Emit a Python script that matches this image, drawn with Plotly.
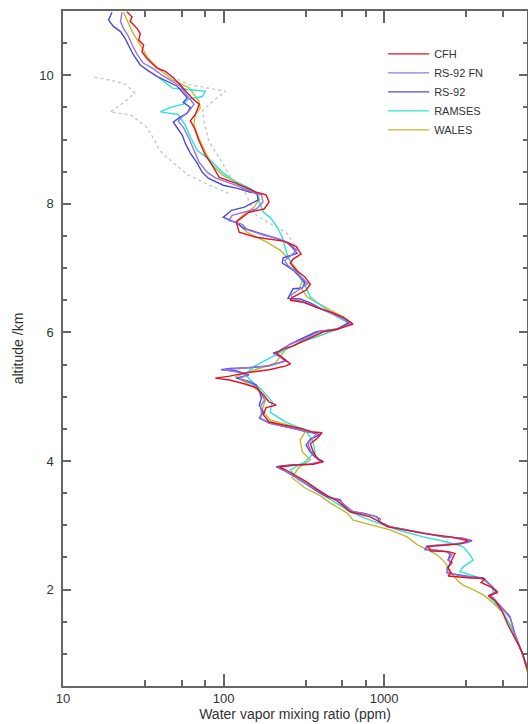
import plotly.graph_objects as go

# ---- data (altitude km, water vapour mixing ratio ppm) ----
CFH = [(10.99, 25.0), (10.96, 25.6), (10.91, 26.9), (10.84, 26.2), (10.73, 28.9), (10.65, 30.3),
       (10.55, 29.6), (10.47, 31.8), (10.37, 31.0), (10.26, 33.3), (10.19, 35.8), (10.11, 38.5),
       (10.06, 43.4), (10.00, 46.6), (9.88, 52.5), (9.80, 56.2), (9.64, 63.9), (9.55, 70.6),
       (9.39, 66.7), (9.29, 62.1), (9.18, 65.8), (8.97, 70.6), (8.76, 76.9), (8.60, 85.1),
       (8.41, 94.0), (8.32, 120), (8.18, 160), (8.14, 184), (8.03, 192), (7.92, 179), (7.87, 144),
       (7.72, 120), (7.56, 125), (7.48, 160), (7.42, 235), (7.34, 283), (7.22, 304), (7.14, 271),
       (7.08, 260), (6.97, 283), (6.86, 322), (6.75, 347), (6.66, 327), (6.55, 271), (6.50, 260),
       (6.47, 313), (6.39, 378), (6.32, 461), (6.24, 556), (6.13, 641), (6.05, 510), (6.01, 418),
       (5.94, 362), (5.87, 313), (5.79, 271), (5.74, 235), (5.68, 213), (5.60, 235), (5.51, 260),
       (5.48, 245), (5.42, 192), (5.37, 138), (5.32, 109), (5.29, 88.8), (5.26, 109), (5.21, 131),
       (5.14, 160), (5.03, 177), (4.92, 192), (4.87, 213), (4.83, 184), (4.72, 177), (4.61, 192),
       (4.56, 235), (4.51, 300), (4.45, 362), (4.44, 411), (4.34, 378), (4.27, 347), (4.14, 362),
       (4.02, 389), (3.99, 418), (3.95, 362), (3.94, 283), (3.91, 222), (3.86, 245), (3.77, 283),
       (3.68, 327), (3.57, 378), (3.46, 442), (3.38, 510), (3.21, 614), (3.13, 818), (3.05, 944),
       (2.98, 1045), (2.93, 1333), (2.87, 1775), (2.82, 2614), (2.76, 3334), (2.71, 3013),
       (2.68, 2168), (2.67, 1879), (2.60, 1961), (2.59, 2500), (2.56, 2765), (2.45, 2614),
       (2.34, 2500), (2.26, 2614), (2.21, 2500), (2.18, 3473), (2.17, 4250), (2.11, 4015),
       (2.03, 4710), (1.95, 5060), (1.90, 4450), (1.83, 4910), (1.67, 5420), (1.45, 5910),
       (1.25, 6540), (1.03, 7230), (0.77, 7760)]

RS92_FN = [(10.98, 23.3), (10.84, 22.8), (10.73, 23.8), (10.61, 25.5), (10.47, 27.0), (10.32, 29.0),
           (10.19, 31.6), (10.11, 36.0), (10.00, 41.6), (9.91, 48.0), (9.83, 53.8), (9.65, 60.7),
           (9.55, 65.5), (9.44, 60.8), (9.36, 55.3), (9.29, 52.2), (9.18, 56.5), (9.02, 60.8),
           (8.83, 65.3), (8.65, 70.3), (8.49, 79.3), (8.40, 89.4), (8.29, 119), (8.18, 152),
           (8.14, 172), (8.03, 176), (7.92, 160), (7.82, 113), (7.74, 108), (7.68, 131), (7.60, 140),
           (7.52, 175), (7.45, 225), (7.38, 262), (7.28, 285), (7.20, 265), (7.12, 240), (7.05, 250),
           (6.95, 280), (6.85, 310), (6.76, 335), (6.68, 300), (6.58, 262), (6.52, 270), (6.45, 335),
           (6.36, 410), (6.28, 490), (6.20, 570), (6.14, 630), (6.06, 520), (6.02, 400), (5.90, 320),
           (5.82, 262), (5.72, 225), (5.66, 210), (5.60, 230), (5.55, 240), (5.48, 190), (5.44, 125),
           (5.42, 100), (5.39, 118), (5.34, 140), (5.28, 125), (5.22, 145), (5.15, 162), (5.05, 172),
           (4.95, 180), (4.85, 170), (4.75, 172), (4.66, 170), (4.58, 200), (4.52, 255), (4.47, 320),
           (4.43, 380), (4.36, 360), (4.27, 335), (4.15, 350), (4.05, 380), (3.99, 405), (3.95, 340),
           (3.93, 265), (3.90, 218), (3.85, 240), (3.76, 275), (3.67, 318), (3.55, 380), (3.45, 445),
           (3.38, 530), (3.21, 641), (3.15, 850), (3.10, 950), (3.05, 930), (2.98, 1060), (2.93, 1370),
           (2.88, 1760), (2.82, 2400), (2.79, 3150), (2.76, 3450), (2.73, 3200), (2.70, 2300),
           (2.68, 1870), (2.63, 1830), (2.61, 2200), (2.58, 2500), (2.54, 2650), (2.46, 2520),
           (2.40, 2620), (2.33, 2480), (2.26, 2500), (2.22, 2900), (2.19, 3500), (2.17, 4150),
           (2.12, 4350), (2.04, 4750), (1.96, 5000), (1.91, 4550), (1.86, 4800), (1.78, 5100),
           (1.68, 5500), (1.56, 6100), (1.30, 6550), (1.05, 7150), (0.78, 7760)]

RS92 = [(10.98, 20.2), (10.86, 19.2), (10.76, 20.6), (10.68, 22.8), (10.57, 24.4), (10.47, 25.5),
        (10.32, 27.4), (10.16, 30.3), (10.08, 33.5), (9.98, 38.7), (9.91, 44.6), (9.83, 51.5),
        (9.65, 59.4), (9.58, 56.1), (9.50, 62.1), (9.41, 59.4), (9.33, 52.2), (9.27, 48.6),
        (9.18, 51.5), (9.07, 55.3), (8.94, 57.8), (8.79, 62.1), (8.63, 68.6), (8.49, 73.7),
        (8.40, 80.3), (8.29, 99.5), (8.24, 122), (8.18, 147), (8.17, 162), (8.06, 164), (7.95, 135),
        (7.90, 112), (7.79, 99.5), (7.75, 110), (7.70, 122), (7.62, 133), (7.56, 162), (7.48, 204),
        (7.40, 249), (7.31, 271), (7.23, 287), (7.20, 260), (7.16, 235), (7.08, 232), (6.97, 271),
        (6.86, 300), (6.77, 322), (6.69, 309), (6.68, 271), (6.53, 252), (6.52, 300), (6.46, 347),
        (6.35, 418), (6.30, 482), (6.22, 556), (6.15, 600), (6.05, 510), (6.01, 378), (5.91, 313),
        (5.82, 260), (5.71, 222), (5.68, 204), (5.63, 222), (5.56, 245), (5.48, 192), (5.45, 144),
        (5.44, 109), (5.42, 96.8), (5.40, 120), (5.34, 144), (5.29, 120), (5.24, 144), (5.18, 160),
        (5.09, 167), (4.98, 172), (4.87, 167), (4.76, 177), (4.67, 167), (4.59, 192), (4.53, 245),
        (4.48, 313), (4.44, 362), (4.41, 400), (4.34, 347), (4.25, 327), (4.14, 347), (4.06, 372),
        (3.99, 418), (3.95, 347), (3.94, 260), (3.91, 213), (3.86, 235), (3.77, 271), (3.68, 313),
        (3.54, 378), (3.44, 442), (3.40, 532), (3.32, 556), (3.21, 641), (3.19, 740), (3.13, 903),
        (3.05, 944), (2.98, 1090), (2.93, 1390), (2.88, 1750), (2.82, 2330), (2.80, 3100),
        (2.76, 3530), (2.73, 3290), (2.69, 2330), (2.68, 1850), (2.62, 1800), (2.61, 2140),
        (2.59, 2470), (2.54, 2575), (2.46, 2500), (2.42, 2650), (2.34, 2470), (2.26, 2470),
        (2.23, 2845), (2.20, 3430), (2.18, 4130), (2.12, 4375), (2.04, 4775), (1.97, 5060),
        (1.92, 4575), (1.87, 4775), (1.79, 5060), (1.69, 5510), (1.58, 6080), (1.30, 6540),
        (1.06, 7130), (0.80, 7760)]

RAMSES = [(9.97, 39.3), (9.80, 48.0), (9.78, 60.2), (9.75, 76.9), (9.67, 73.7), (9.63, 60.2),
          (9.55, 56.1), (9.50, 46.6), (9.43, 40.4), (9.39, 52.2), (9.22, 57.8), (9.04, 62.1),
          (8.83, 68.6), (8.68, 82.6), (8.49, 98.2), (8.35, 118), (8.24, 147), (8.12, 164),
          (8.03, 167), (7.87, 177), (7.79, 195), (7.64, 216), (7.48, 232), (7.33, 242), (7.17, 252),
          (7.02, 271), (6.86, 300), (6.66, 332), (6.55, 347), (6.46, 384), (6.35, 442), (6.24, 510),
          (6.16, 589), (6.13, 614), (6.04, 497), (5.93, 372), (5.84, 300), (5.73, 242), (5.60, 195),
          (5.48, 157), (5.35, 136), (5.26, 147), (5.10, 174), (4.92, 201), (4.76, 195), (4.61, 242),
          (4.48, 322), (4.33, 357), (4.14, 372), (3.99, 322), (3.86, 260), (3.71, 292), (3.55, 372),
          (3.40, 461), (3.21, 614), (3.08, 818), (2.93, 1205), (2.82, 1750), (2.74, 2470),
          (2.67, 3100), (2.54, 3430), (2.46, 3580), (2.35, 3100), (2.28, 2970), (2.23, 3430),
          (2.18, 3955), (2.12, 4375), (2.04, 4700), (1.95, 4775), (1.87, 4575), (1.76, 5060),
          (1.64, 5510), (1.45, 6080), (1.22, 6730), (0.99, 7330), (0.80, 7760)]

WALES = [(10.98, 23.8), (10.84, 25.2), (10.68, 27.0), (10.47, 30.3), (10.26, 34.0), (10.08, 40.4),
         (9.92, 48.6), (9.81, 60.8), (9.60, 70.2), (9.49, 71.6), (9.39, 66.7), (9.23, 65.3),
         (9.02, 70.2), (8.81, 76.9), (8.60, 85.1), (8.45, 98.2), (8.29, 131), (8.18, 160),
         (8.07, 167), (7.95, 155), (7.82, 131), (7.72, 120), (7.56, 140), (7.40, 187), (7.28, 225),
         (7.12, 260), (6.97, 287), (6.81, 309), (6.71, 300), (6.55, 332), (6.46, 384), (6.35, 461),
         (6.24, 556), (6.16, 614), (6.04, 497), (5.94, 389), (5.85, 300), (5.73, 242), (5.62, 225),
         (5.52, 210), (5.42, 157), (5.31, 118), (5.23, 136), (5.10, 164), (4.95, 182), (4.79, 174),
         (4.64, 195), (4.55, 260), (4.45, 322), (4.33, 300), (4.14, 309), (4.02, 347), (3.89, 292),
         (3.74, 267), (3.58, 322), (3.46, 400), (3.35, 461), (3.19, 589), (3.08, 641), (3.01, 818),
         (2.93, 1090), (2.82, 1390), (2.70, 1605), (2.62, 1853), (2.54, 2140), (2.42, 2400),
         (2.28, 2575), (2.15, 2845), (2.07, 3100), (2.00, 3580), (1.92, 4130), (1.79, 4775),
         (1.64, 5510), (1.45, 6080), (1.22, 6730), (0.94, 7430), (0.72, 7760)]

RAMSES_LOW = [(9.97, 15.7), (9.92, 20), (9.86, 24.5), (9.72, 28), (9.58, 24), (9.43, 19.7),
              (9.38, 26.5), (9.20, 33), (9.00, 37), (8.83, 40), (8.65, 48), (8.45, 60), (8.30, 80),
              (8.15, 110)]
RAMSES_HIGH = [(9.98, 48), (9.86, 60), (9.75, 103), (9.62, 88), (9.45, 74), (9.25, 76), (8.97, 81),
               (8.70, 95), (8.44, 109), (8.20, 135), (7.95, 150), (7.82, 160), (7.55, 246),
               (7.30, 290)]

SERIES = [("CFH", CFH, "#e0141e"), ("RS-92 FN", RS92_FN, "#9574e6"), ("RS-92", RS92, "#4b4bd6"),
          ("RAMSES", RAMSES, "#2fe3d6"), ("WALES", WALES, "#c3b733")]

X_MAJOR = [10, 100, 1000]
X_MAJOR_TEXT = ["10", "100", "1000"]
X_MINOR = [32.4, 55, 76.7, 324, 550, 767, 3240, 5500]
Y_MAJOR = [2, 4, 6, 8, 10]

AXC = "#666666"
TXT = "#333333"

fig = go.Figure()
for band in (RAMSES_LOW, RAMSES_HIGH):
    fig.add_trace(go.Scatter(x=[p[1] for p in band], y=[p[0] for p in band], mode="lines",
                             line=dict(color="#c8c8c8", width=1.4, dash="dot"),
                             showlegend=False, hoverinfo="skip"))
for name, data, col in reversed(SERIES):
    fig.add_trace(go.Scatter(x=[p[1] for p in data], y=[p[0] for p in data], mode="lines",
                             name=name, line=dict(color=col, width=1.4)))

fig.update_layout(
    width=528, height=724,
    margin=dict(l=63, r=1, t=11, b=38, autoexpand=False),
    plot_bgcolor="white", paper_bgcolor="white",
    font=dict(family="Liberation Sans, Arial, sans-serif", size=13, color=TXT),
    legend=dict(x=0.69, y=0.958, xanchor="left", yanchor="top", traceorder="reversed",
                font=dict(size=11, color=TXT), bgcolor="rgba(0,0,0,0)", tracegroupgap=0,
                itemwidth=41),
)
fig.update_xaxes(
    type="log", range=[0.9999, 3.89],
    tickvals=X_MAJOR, ticktext=X_MAJOR_TEXT,
    ticks="inside", ticklen=12, tickwidth=1.5, tickcolor=AXC,
    showline=True, linecolor=AXC, linewidth=1.5, mirror="ticks",
    showgrid=False, zeroline=False,
    minor=dict(tickvals=X_MINOR, ticks="inside", ticklen=6, tickwidth=1.5, tickcolor=AXC, showgrid=False),
    title=dict(text="Water vapor mixing ratio (ppm)", standoff=4, font=dict(size=14)),
    tickfont=dict(size=13), automargin=False,
)
fig.update_yaxes(
    range=[0.5, 11], tickvals=Y_MAJOR,
    ticks="inside", ticklen=8, tickwidth=1.5, tickcolor=AXC,
    showline=True, linecolor=AXC, linewidth=1.5, mirror="ticks",
    showgrid=False, zeroline=False,
    minor=dict(dtick=0.5, tick0=0, ticks="inside", ticklen=4, tickwidth=1.5, tickcolor=AXC, showgrid=False),
    title=dict(text="altitude /km", standoff=12, font=dict(size=14)),
    tickfont=dict(size=13), ticklabelstandoff=5, automargin=False,
)

fig.write_html("out.html", config={"displayModeBar": False},
               post_script="document.body.style.margin='0';document.body.style.overflow='hidden';")
